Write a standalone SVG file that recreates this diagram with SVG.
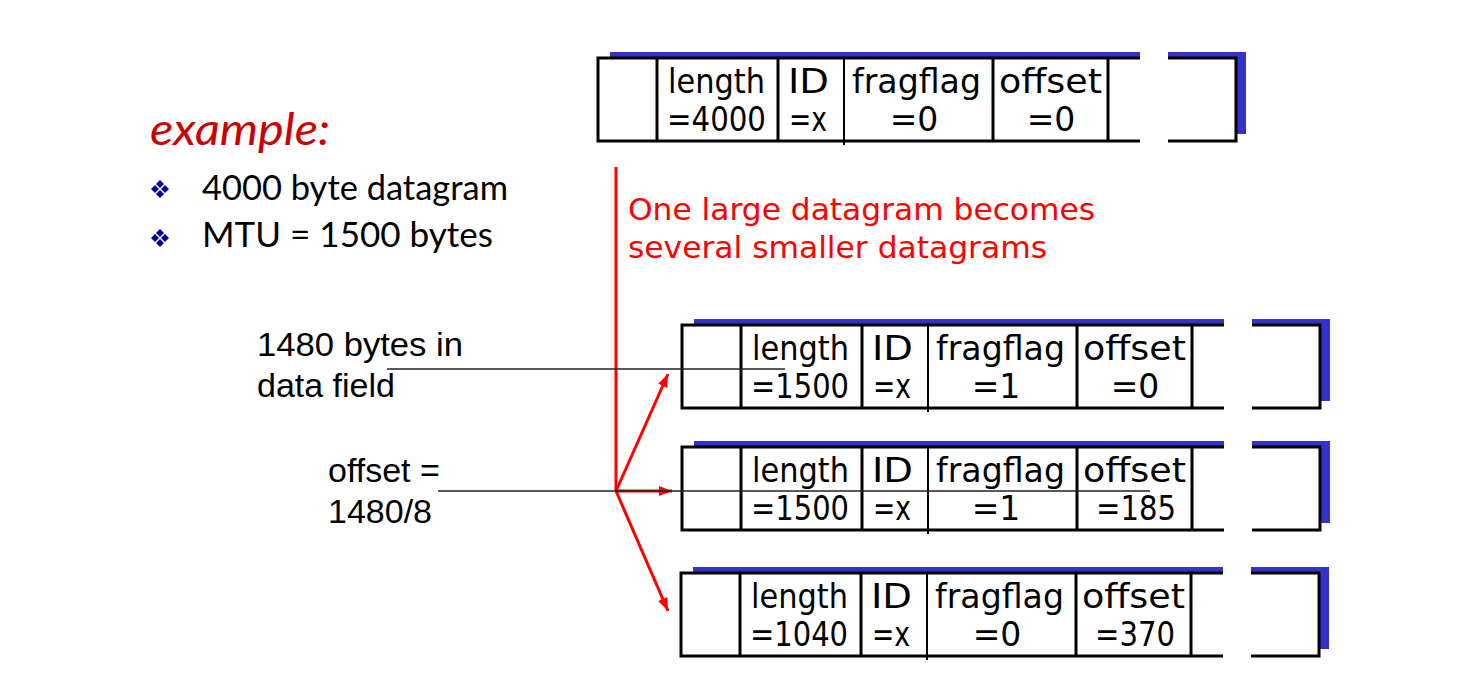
<svg xmlns="http://www.w3.org/2000/svg" width="1469" height="697" viewBox="0 0 1469 697">
<style>
.sh{fill:#3333cc}
.bx{fill:#fff;stroke:#000;stroke-width:3}
.dv{stroke:#000;stroke-width:3}
.dvt{stroke:#000;stroke-width:2}
.pt{fill:#fff}
.f{font-family:"DejaVu Sans",sans-serif;font-size:33px;fill:#000}
.c{text-anchor:middle}
.lbl{font-family:"Liberation Sans",Arial,sans-serif;font-size:34px;fill:#000}
.gs{font-family:Lato,"Liberation Sans",sans-serif;font-size:35px;fill:#000}
.red{font-family:"DejaVu Sans",sans-serif;font-size:31px;fill:#ff0000}
.rl{stroke:#ff0000;stroke-width:3;fill:none}
.bl{stroke:#222;stroke-width:1.5;fill:none}
.bul{fill:#000099}
</style>
<defs>
<marker id="ah" markerUnits="userSpaceOnUse" markerWidth="14" markerHeight="12" refX="13" refY="5" orient="auto">
<path d="M0,0 L13,5 L0,10 z" fill="#ff0000"/>
</marker>
<g id="frame">
<rect class="sh" x="12" y="-6" width="636" height="82"/>
<rect class="bx" x="0" y="0" width="638" height="83"/>
<line class="dv" x1="59" y1="0" x2="59" y2="83"/>
<line class="dv" x1="180" y1="0" x2="180" y2="83"/>
<line class="dvt" x1="246" y1="0" x2="246" y2="87"/>
<line class="dv" x1="395" y1="0" x2="395" y2="83"/>
<line class="dv" x1="510" y1="0" x2="510" y2="83"/>
<rect class="pt" x="542" y="-8" width="28" height="93"/>
<text class="f" x="70" y="35" textLength="97" lengthAdjust="spacingAndGlyphs">length</text>
<text class="f" x="190" y="35" textLength="41" lengthAdjust="spacingAndGlyphs">ID</text>
<text class="f" x="254" y="35" textLength="129" lengthAdjust="spacingAndGlyphs">fragflag</text>
<text class="f" x="401" y="35" textLength="103" lengthAdjust="spacingAndGlyphs">offset</text>
<text class="f" x="191" y="73" textLength="38" lengthAdjust="spacingAndGlyphs">=x</text>
</g>
</defs>

<g id="example">
<text x="150" y="145" font-family="Lato,'Liberation Sans',sans-serif" font-style="italic" font-size="44" fill="#cc0000" textLength="180" lengthAdjust="spacingAndGlyphs">example:</text>
</g>
<g id="bullet1">
<path class="bul" d="M160,180 l4,4 l-4,4 l-4,-4 z M155,185 l4,4 l-4,4 l-4,-4 z M165,185 l4,4 l-4,4 l-4,-4 z M160,190 l4,4 l-4,4 l-4,-4 z"/>
<text class="gs" x="202" y="200" textLength="306" lengthAdjust="spacingAndGlyphs">4000 byte datagram</text>
</g>
<g id="bullet2">
<path class="bul" d="M160,229 l4,4 l-4,4 l-4,-4 z M155,234 l4,4 l-4,4 l-4,-4 z M165,234 l4,4 l-4,4 l-4,-4 z M160,239 l4,4 l-4,4 l-4,-4 z"/>
<text class="gs" x="202" y="247" textLength="291" lengthAdjust="spacingAndGlyphs">MTU = 1500 bytes</text>
</g>

<g id="caption">
<text class="red" x="628" y="220" textLength="467" lengthAdjust="spacingAndGlyphs">One large datagram becomes</text>
<text class="red" x="628" y="258" textLength="419" lengthAdjust="spacingAndGlyphs">several smaller datagrams</text>
</g>

<g id="label-data">
<text class="lbl" x="257" y="356" textLength="206" lengthAdjust="spacingAndGlyphs">1480 bytes in</text>
<text class="lbl" x="257" y="397">data field</text>
</g>
<g id="label-offset">
<text class="lbl" x="328" y="482">offset =</text>
<text class="lbl" x="328" y="523">1480/8</text>
</g>

<g id="datagram-original" transform="translate(598,58)">
<use href="#frame"/>
<text class="f" x="69" y="73" textLength="99" lengthAdjust="spacingAndGlyphs">=4000</text>
<text class="f c" x="316" y="73">=0</text>
<text class="f c" x="453" y="73">=0</text>
</g>

<g id="fragment-1" transform="translate(682,325)">
<use href="#frame"/>
<text class="f" x="69" y="73" textLength="98" lengthAdjust="spacingAndGlyphs">=1500</text>
<text class="f c" x="314" y="73">=1</text>
<text class="f c" x="453" y="73">=0</text>
</g>

<g id="fragment-2" transform="translate(682,447)">
<use href="#frame"/>
<text class="f" x="69" y="73" textLength="98" lengthAdjust="spacingAndGlyphs">=1500</text>
<text class="f c" x="314" y="73">=1</text>
<text class="f c" x="454" y="73" textLength="80" lengthAdjust="spacingAndGlyphs">=185</text>
</g>

<g id="fragment-3" transform="translate(681,573)">
<use href="#frame"/>
<text class="f" x="69" y="73" textLength="98" lengthAdjust="spacingAndGlyphs">=1040</text>
<text class="f c" x="316" y="73">=0</text>
<text class="f c" x="454" y="73" textLength="80" lengthAdjust="spacingAndGlyphs">=370</text>
</g>

<g id="connectors">
<line class="rl" x1="616" y1="167" x2="616" y2="491"/>
<line class="rl" x1="616" y1="491" x2="668" y2="374" marker-end="url(#ah)"/>
<line class="rl" x1="616" y1="491" x2="672" y2="491" marker-end="url(#ah)"/>
<line class="rl" x1="616" y1="491" x2="668" y2="611" marker-end="url(#ah)"/>
<line class="bl" x1="387" y1="369" x2="785" y2="369"/>
<line class="bl" x1="438" y1="491" x2="1150" y2="491"/>
</g>
</svg>
